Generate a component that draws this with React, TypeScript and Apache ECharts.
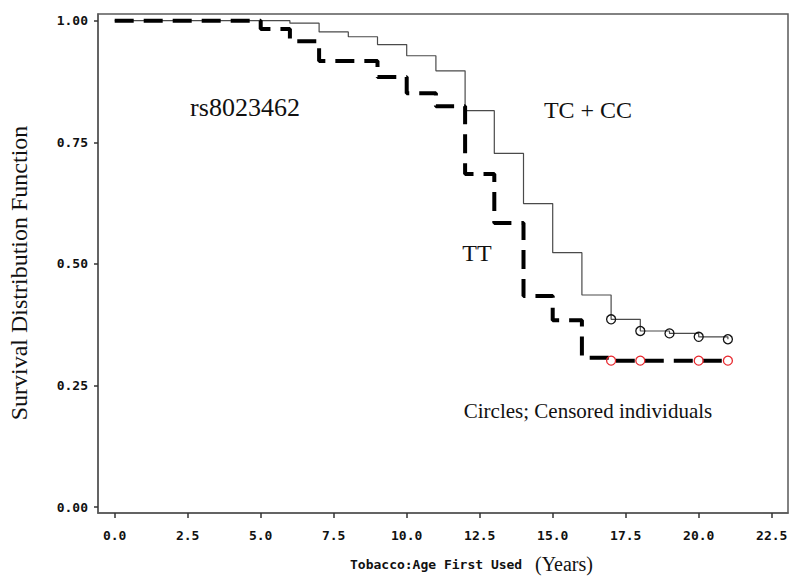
import React, { useEffect, useRef } from "react";
import * as echarts from "echarts";

const xTicks = [0, 2.5, 5, 7.5, 10, 12.5, 15, 17.5, 20, 22.5];
const yTicks = [0, 0.25, 0.5, 0.75, 1];

// TC + CC (solid)
const tcTimes = [0, 6, 7, 8, 9, 10, 11, 12, 13, 14, 15, 16, 17, 18, 19, 20, 21];
const tcSurv = [1, 0.995, 0.977, 0.967, 0.951, 0.928, 0.897, 0.815, 0.727, 0.624, 0.523, 0.436, 0.386, 0.362, 0.357, 0.35, 0.345];
const tcCensTimes = [17, 18, 19, 20, 21];
const tcCensSurv = [0.386, 0.362, 0.357, 0.35, 0.345];

// TT (dashed)
const ttTimes = [0, 5, 6, 7, 9, 10, 11, 12, 13, 14, 15, 16, 17, 21];
const ttSurv = [1, 0.983, 0.958, 0.917, 0.884, 0.851, 0.824, 0.685, 0.584, 0.434, 0.384, 0.307, 0.301, 0.301];
const ttCensTimes = [17, 18, 20, 21];
const ttCensSurv = [0.301, 0.301, 0.301, 0.301];

const zip = (a: number[], b: number[]) => a.map((v, i) => [v, b[i]]);

const MONO = "bold 13px 'DejaVu Sans Mono'";
const SERIF = "'Liberation Serif'";

export default function App() {
  const ref = useRef<HTMLDivElement>(null);
  useEffect(() => {
    if (!ref.current) return;
    const chart = echarts.init(ref.current, undefined, { renderer: "svg" });
    chart.setOption({
      animation: false,
      backgroundColor: "#ffffff",
      grid: {
        left: 98,
        top: 14,
        width: 690,
        height: 499,
        show: true,
        borderColor: "#5a5a5a",
        borderWidth: 1.5,
        backgroundColor: "transparent",
      },
      xAxis: {
        type: "value",
        min: -0.572,
        max: 23.058,
        axisLine: { show: true, onZero: false, lineStyle: { color: "#5a5a5a", width: 1.5 } },
        axisTick: { show: true, customValues: xTicks, length: 5, lineStyle: { color: "#333", width: 1.5 } },
        axisLabel: {
          customValues: xTicks,
          margin: 16,
          formatter: (v: number) => v.toFixed(1),
          fontFamily: "DejaVu Sans Mono",
          fontWeight: "bold",
          fontSize: 13,
          color: "#111",
        },
        splitLine: { show: false },
      },
      yAxis: {
        type: "value",
        min: -0.0123,
        max: 1.0138,
        axisLine: { show: true, onZero: false, lineStyle: { color: "#5a5a5a", width: 1.5 } },
        axisTick: { show: true, customValues: yTicks, length: 4, lineStyle: { color: "#333", width: 1.5 } },
        axisLabel: {
          customValues: yTicks,
          margin: 10,
          formatter: (v: number) => v.toFixed(2),
          fontFamily: "DejaVu Sans Mono",
          fontWeight: "bold",
          fontSize: 13,
          color: "#111",
        },
        splitLine: { show: false },
      },
      series: [
        {
          type: "line",
          step: "end",
          data: zip(tcTimes, tcSurv),
          showSymbol: false,
          lineStyle: { color: "#4a4a4a", width: 1.2 },
          z: 2,
        },
        {
          type: "line",
          step: "end",
          data: zip(ttTimes, ttSurv),
          showSymbol: false,
          lineStyle: { color: "#000", width: 4, type: [19, 10] },
          z: 3,
        },
        {
          type: "scatter",
          data: zip(tcCensTimes, tcCensSurv),
          symbol: "circle",
          symbolSize: 9,
          itemStyle: { color: "rgba(255,255,255,0)", borderColor: "#111", borderWidth: 1.3, opacity: 1 },
          z: 4,
        },
        {
          type: "scatter",
          data: zip(ttCensTimes, ttCensSurv),
          symbol: "circle",
          symbolSize: 9,
          itemStyle: { color: "rgba(255,255,255,0)", borderColor: "#e8282e", borderWidth: 1.3, opacity: 1 },
          z: 4,
        },
      ],
      graphic: [
        {
          type: "text",
          x: 245,
          y: 107,
          style: { text: "rs8023462", font: `26px ${SERIF}`, fill: "#111", textAlign: "center", textVerticalAlign: "middle" },
        },
        {
          type: "text",
          x: 588,
          y: 110,
          style: { text: "TC + CC", font: `24px ${SERIF}`, fill: "#111", textAlign: "center", textVerticalAlign: "middle" },
        },
        {
          type: "text",
          x: 477,
          y: 253,
          style: { text: "TT", font: `24px ${SERIF}`, fill: "#111", textAlign: "center", textVerticalAlign: "middle" },
        },
        {
          type: "text",
          x: 588,
          y: 411,
          style: { text: "Circles; Censored individuals", font: `21px ${SERIF}`, fill: "#111", textAlign: "center", textVerticalAlign: "middle" },
        },
        {
          type: "text",
          x: 19,
          y: 273,
          rotation: Math.PI / 2,
          style: { text: "Survival Distribution Function", font: `24px ${SERIF}`, fill: "#111", textAlign: "center", textVerticalAlign: "middle" },
        },
        {
          type: "text",
          x: 350,
          y: 564,
          style: { text: "Tobacco:Age First Used", font: MONO, fill: "#111", textAlign: "left", textVerticalAlign: "middle" },
        },
        {
          type: "text",
          x: 535,
          y: 564,
          style: { text: "(Years)", font: `20px ${SERIF}`, fill: "#111", textAlign: "left", textVerticalAlign: "middle" },
        },
      ],
    });
    return () => chart.dispose();
  }, []);
  return <div ref={ref} style={{ position: "fixed", left: 0, top: 0, width: 800, height: 582 }} />;
}
